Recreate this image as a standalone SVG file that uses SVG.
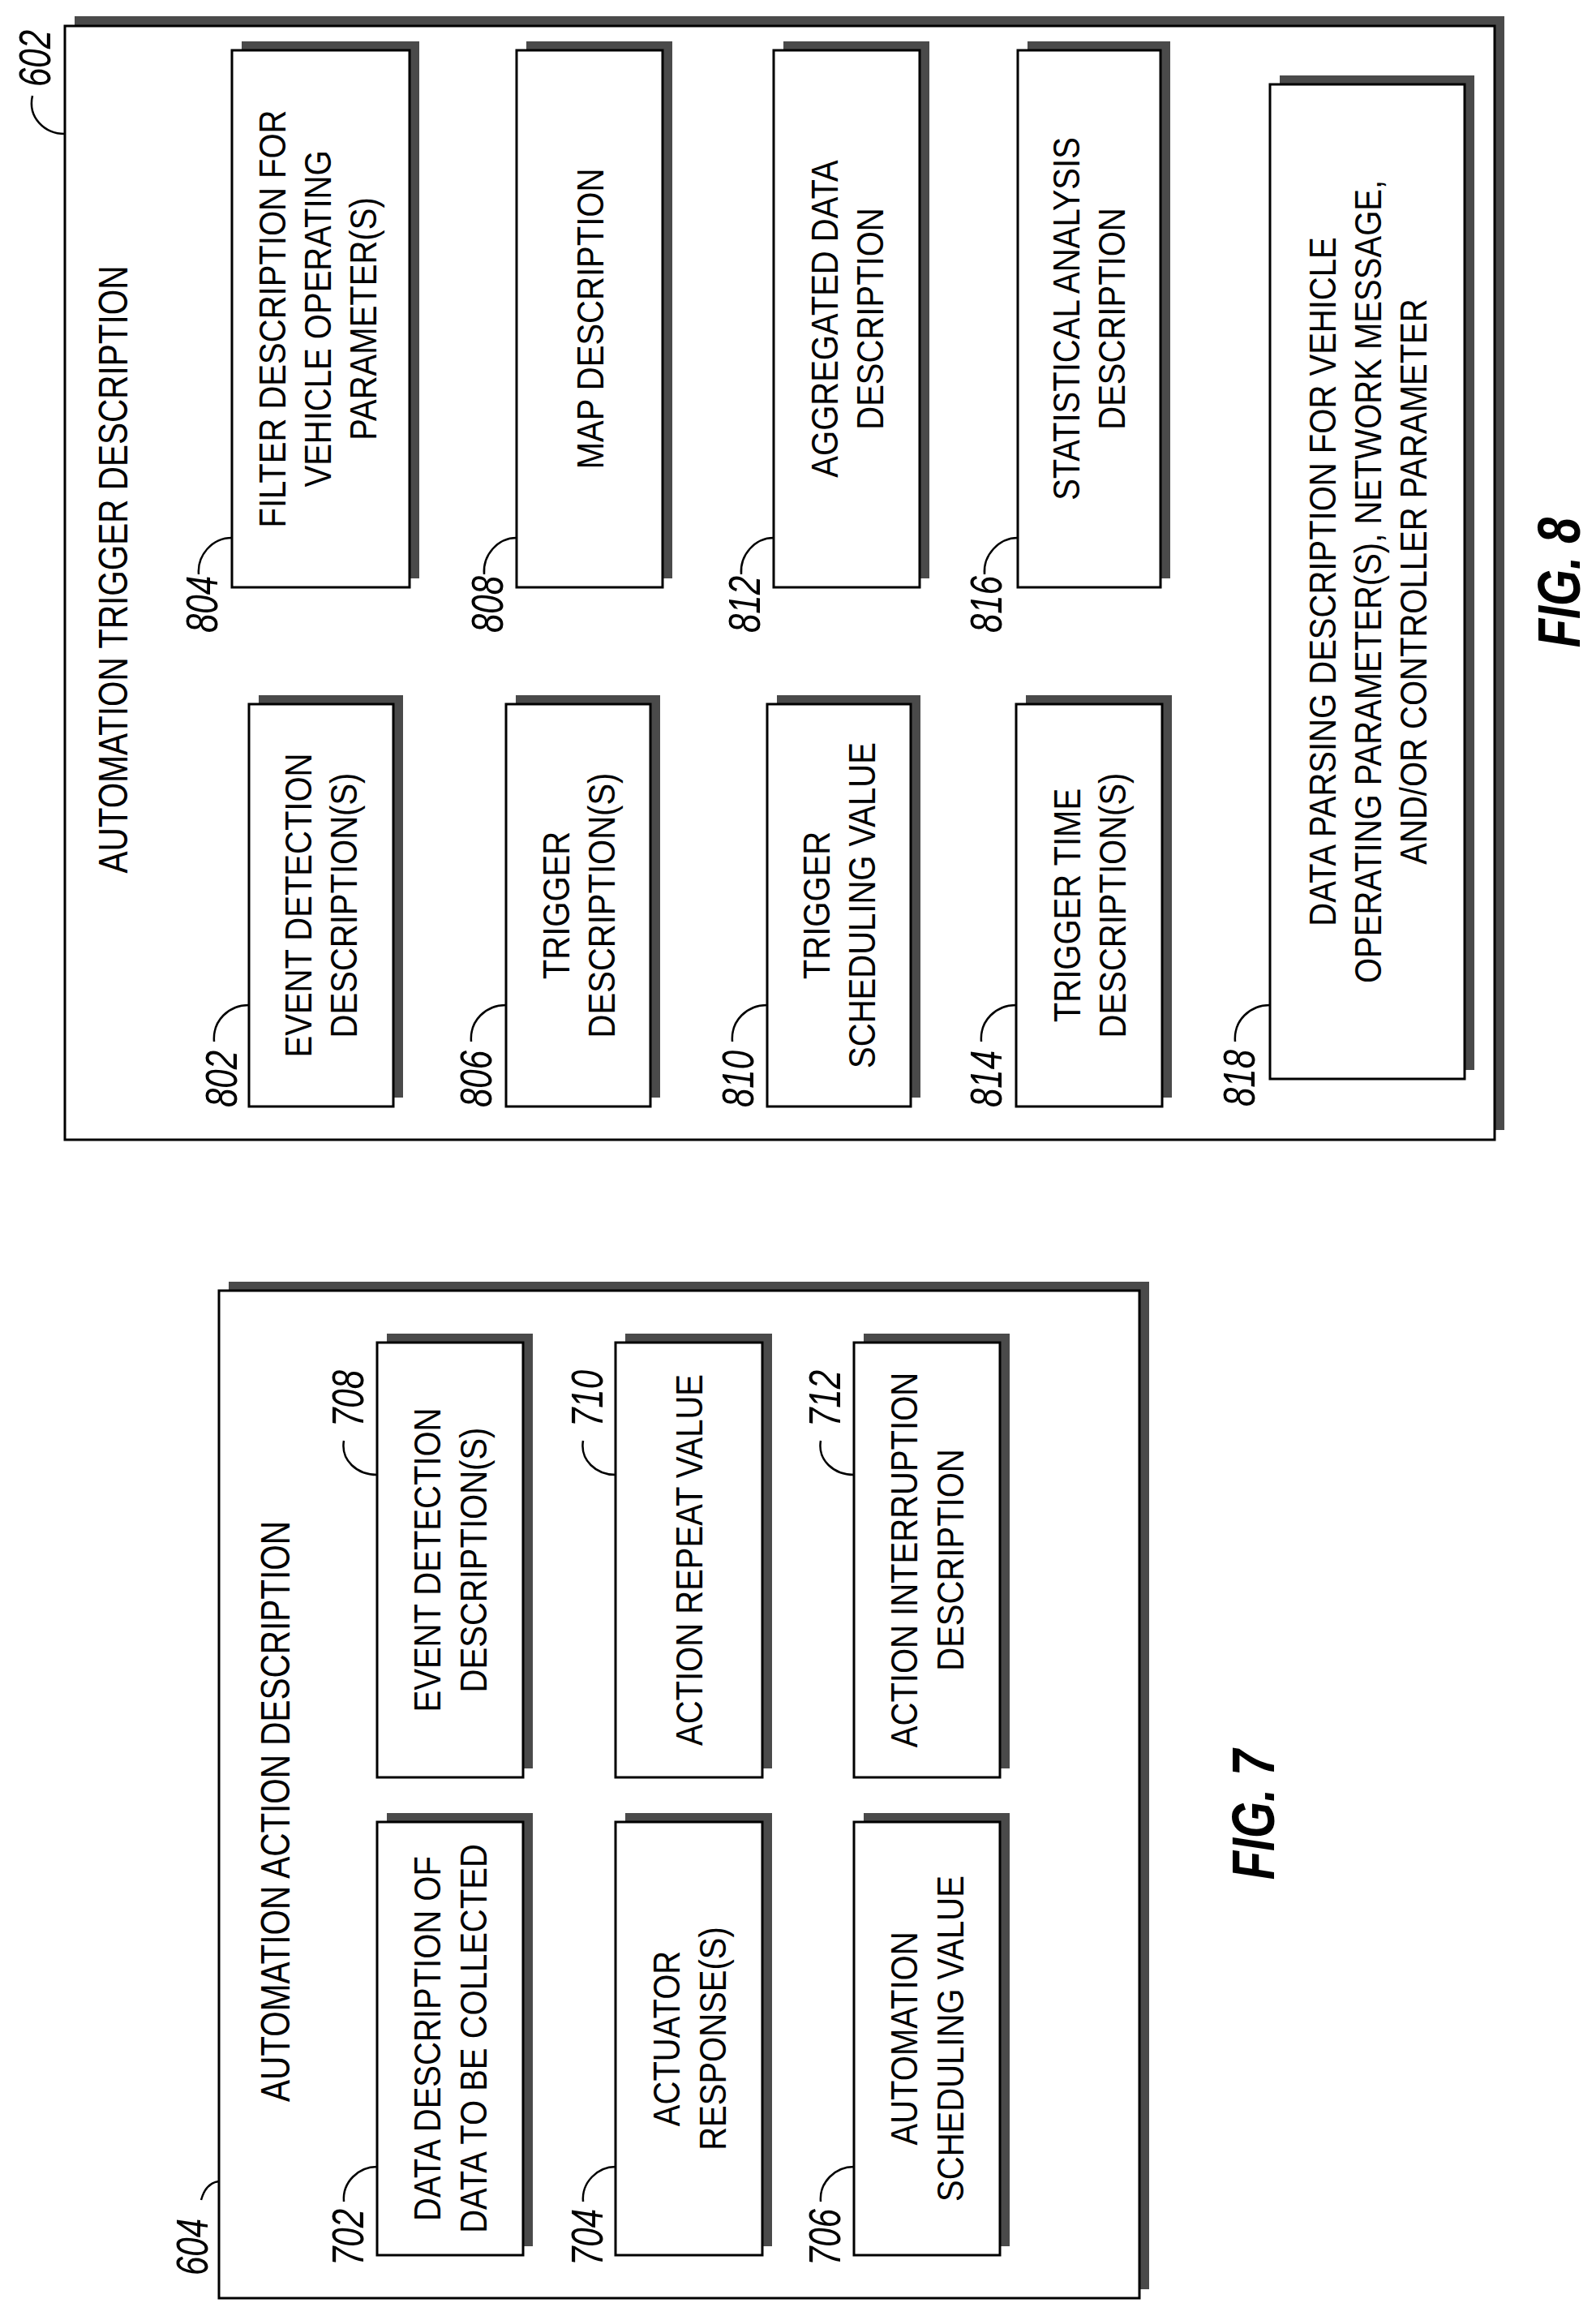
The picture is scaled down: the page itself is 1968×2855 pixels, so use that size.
<svg xmlns="http://www.w3.org/2000/svg" width="1968" height="2855" viewBox="0 0 1968 2855">
<style>
.bg{fill:#fff}
.sh{fill:#4a4a4a}
.bx{fill:#fff;stroke:#000;stroke-width:3}
.t{font-family:"Liberation Sans",Arial,sans-serif;font-size:46px;text-anchor:middle;fill:#000}
.tt{font-family:"Liberation Sans",Arial,sans-serif;font-size:50px;text-anchor:middle;fill:#000}
.lb{font-family:"Liberation Sans",Arial,sans-serif;font-size:56px;font-style:italic;text-anchor:middle;fill:#000}
.fig{font-family:"Liberation Sans",Arial,sans-serif;font-size:75px;font-style:italic;font-weight:bold;text-anchor:middle;fill:#000}
.ld{fill:none;stroke:#000;stroke-width:2.5}
</style>
<rect class="bg" x="0" y="0" width="1968" height="2855"/>

<!-- FIG 8 -->
<g id="n602">
<rect class="sh" x="92" y="20" width="1763" height="1373"/>
<rect class="bx" x="80" y="32" width="1763" height="1373"/>
<text class="lb" transform="translate(62,72) rotate(-90) scale(0.75,1)">602</text>
<text class="tt" transform="translate(157,702) rotate(-90) scale(0.81,1)">AUTOMATION TRIGGER DESCRIPTION</text>
</g>

<g id="n804">
<rect class="sh" x="298" y="51" width="219" height="662"/>
<rect class="bx" x="286" y="62" width="219" height="662"/>
<text class="t" transform="translate(352,393) rotate(-90) scale(0.87,1)">FILTER DESCRIPTION FOR</text>
<text class="t" transform="translate(408,393) rotate(-90) scale(0.87,1)">VEHICLE OPERATING</text>
<text class="t" transform="translate(464,393) rotate(-90) scale(0.87,1)">PARAMETER(S)</text>
<text class="lb" transform="translate(268,745) rotate(-90) scale(0.75,1)">804</text>
</g>
<g id="n808">
<rect class="sh" x="649" y="51" width="180" height="662"/>
<rect class="bx" x="637" y="62" width="180" height="662"/>
<text class="t" transform="translate(744,393) rotate(-90) scale(0.87,1)">MAP DESCRIPTION</text>
<text class="lb" transform="translate(620,745) rotate(-90) scale(0.75,1)">808</text>
</g>
<g id="n812">
<rect class="sh" x="966" y="51" width="180" height="662"/>
<rect class="bx" x="954" y="62" width="180" height="662"/>
<text class="t" transform="translate(1033,393) rotate(-90) scale(0.87,1)">AGGREGATED DATA</text>
<text class="t" transform="translate(1089,393) rotate(-90) scale(0.87,1)">DESCRIPTION</text>
<text class="lb" transform="translate(937,745) rotate(-90) scale(0.75,1)">812</text>
</g>
<g id="n816">
<rect class="sh" x="1267" y="51" width="176" height="662"/>
<rect class="bx" x="1255" y="62" width="176" height="662"/>
<text class="t" transform="translate(1331,393) rotate(-90) scale(0.87,1)">STATISTICAL ANALYSIS</text>
<text class="t" transform="translate(1387,393) rotate(-90) scale(0.87,1)">DESCRIPTION</text>
<text class="lb" transform="translate(1235,745) rotate(-90) scale(0.75,1)">816</text>
</g>

<g id="n802">
<rect class="sh" x="319" y="857" width="178" height="496"/>
<rect class="bx" x="307" y="868" width="178" height="496"/>
<text class="t" transform="translate(384,1116) rotate(-90) scale(0.87,1)">EVENT DETECTION</text>
<text class="t" transform="translate(440,1116) rotate(-90) scale(0.87,1)">DESCRIPTION(S)</text>
<text class="lb" transform="translate(292,1330) rotate(-90) scale(0.75,1)">802</text>
</g>
<g id="n806">
<rect class="sh" x="636" y="857" width="178" height="496"/>
<rect class="bx" x="624" y="868" width="178" height="496"/>
<text class="t" transform="translate(702,1116) rotate(-90) scale(0.87,1)">TRIGGER</text>
<text class="t" transform="translate(758,1116) rotate(-90) scale(0.87,1)">DESCRIPTION(S)</text>
<text class="lb" transform="translate(606,1330) rotate(-90) scale(0.75,1)">806</text>
</g>
<g id="n810">
<rect class="sh" x="958" y="857" width="177" height="496"/>
<rect class="bx" x="946" y="868" width="177" height="496"/>
<text class="t" transform="translate(1023,1116) rotate(-90) scale(0.87,1)">TRIGGER</text>
<text class="t" transform="translate(1079,1116) rotate(-90) scale(0.87,1)">SCHEDULING VALUE</text>
<text class="lb" transform="translate(929,1330) rotate(-90) scale(0.75,1)">810</text>
</g>
<g id="n814">
<rect class="sh" x="1265" y="857" width="180" height="496"/>
<rect class="bx" x="1253" y="868" width="180" height="496"/>
<text class="t" transform="translate(1332,1116) rotate(-90) scale(0.87,1)">TRIGGER TIME</text>
<text class="t" transform="translate(1388,1116) rotate(-90) scale(0.87,1)">DESCRIPTION(S)</text>
<text class="lb" transform="translate(1235,1330) rotate(-90) scale(0.75,1)">814</text>
</g>
<g id="n818">
<rect class="sh" x="1578" y="93" width="240" height="1226"/>
<rect class="bx" x="1566" y="104" width="240" height="1226"/>
<text class="t" transform="translate(1647,717) rotate(-90) scale(0.87,1)">DATA PARSING DESCRIPTION FOR VEHICLE</text>
<text class="t" transform="translate(1703,717) rotate(-90) scale(0.87,1)">OPERATING PARAMETER(S), NETWORK MESSAGE,</text>
<text class="t" transform="translate(1759,717) rotate(-90) scale(0.87,1)">AND/OR CONTROLLER PARAMETER</text>
<text class="lb" transform="translate(1547,1329) rotate(-90) scale(0.75,1)">818</text>
</g>
<text class="fig" transform="translate(1948,718) rotate(-90) scale(0.77,1)">FIG. 8</text>

<!-- FIG 7 -->
<g id="n604">
<rect class="sh" x="282" y="1580" width="1135" height="1242"/>
<rect class="bx" x="270" y="1591" width="1135" height="1242"/>
<text class="tt" transform="translate(357,2233) rotate(-90) scale(0.81,1)">AUTOMATION ACTION DESCRIPTION</text>
<text class="lb" transform="translate(256,2770) rotate(-90) scale(0.75,1)">604</text>
</g>
<g id="n708">
<rect class="sh" x="477" y="1644" width="180" height="536"/>
<rect class="bx" x="465" y="1655" width="180" height="536"/>
<text class="t" transform="translate(543,1923) rotate(-90) scale(0.87,1)">EVENT DETECTION</text>
<text class="t" transform="translate(600,1923) rotate(-90) scale(0.87,1)">DESCRIPTION(S)</text>
<text class="lb" transform="translate(448,1724) rotate(-90) scale(0.75,1)">708</text>
</g>
<g id="n710">
<rect class="sh" x="771" y="1644" width="181" height="536"/>
<rect class="bx" x="759" y="1655" width="181" height="536"/>
<text class="t" transform="translate(866,1923) rotate(-90) scale(0.87,1)">ACTION REPEAT VALUE</text>
<text class="lb" transform="translate(743,1724) rotate(-90) scale(0.75,1)">710</text>
</g>
<g id="n712">
<rect class="sh" x="1065" y="1644" width="180" height="536"/>
<rect class="bx" x="1053" y="1655" width="180" height="536"/>
<text class="t" transform="translate(1131,1923) rotate(-90) scale(0.87,1)">ACTION INTERRUPTION</text>
<text class="t" transform="translate(1188,1923) rotate(-90) scale(0.87,1)">DESCRIPTION</text>
<text class="lb" transform="translate(1036,1724) rotate(-90) scale(0.75,1)">712</text>
</g>
<g id="n702">
<rect class="sh" x="477" y="2235" width="180" height="534"/>
<rect class="bx" x="465" y="2246" width="180" height="534"/>
<text class="t" transform="translate(543,2513) rotate(-90) scale(0.87,1)">DATA DESCRIPTION OF</text>
<text class="t" transform="translate(600,2513) rotate(-90) scale(0.87,1)">DATA TO BE COLLECTED</text>
<text class="lb" transform="translate(448,2758) rotate(-90) scale(0.75,1)">702</text>
</g>
<g id="n704">
<rect class="sh" x="771" y="2235" width="181" height="534"/>
<rect class="bx" x="759" y="2246" width="181" height="534"/>
<text class="t" transform="translate(838,2513) rotate(-90) scale(0.87,1)">ACTUATOR</text>
<text class="t" transform="translate(895,2513) rotate(-90) scale(0.87,1)">RESPONSE(S)</text>
<text class="lb" transform="translate(743,2758) rotate(-90) scale(0.75,1)">704</text>
</g>
<g id="n706">
<rect class="sh" x="1065" y="2235" width="180" height="534"/>
<rect class="bx" x="1053" y="2246" width="180" height="534"/>
<text class="t" transform="translate(1131,2513) rotate(-90) scale(0.87,1)">AUTOMATION</text>
<text class="t" transform="translate(1188,2513) rotate(-90) scale(0.87,1)">SCHEDULING VALUE</text>
<text class="lb" transform="translate(1036,2758) rotate(-90) scale(0.75,1)">706</text>
</g>
<text class="fig" transform="translate(1571,2237) rotate(-90) scale(0.77,1)">FIG. 7</text>

<g id="connectors">
<path class="ld" d="M40,118 C34,145 55,165 80,165"/>
<path class="ld" d="M245,708 C243,684 262,663 286,663"/>
<path class="ld" d="M597,708 C595,684 614,663 637,663"/>
<path class="ld" d="M914,708 C912,684 931,663 954,663"/>
<path class="ld" d="M1214,708 C1212,684 1232,663 1255,663"/>
<path class="ld" d="M264,1284 C262,1258 282,1239 307,1239"/>
<path class="ld" d="M581,1284 C579,1258 599,1239 624,1239"/>
<path class="ld" d="M903,1284 C901,1258 921,1239 946,1239"/>
<path class="ld" d="M1210,1284 C1208,1258 1228,1239 1253,1239"/>
<path class="ld" d="M1523,1284 C1521,1258 1541,1239 1566,1239"/>
<path class="ld" d="M424,1776 C420,1800 440,1818 465,1818"/>
<path class="ld" d="M719,1776 C715,1800 735,1818 759,1818"/>
<path class="ld" d="M1012,1776 C1008,1800 1028,1818 1053,1818"/>
<path class="ld" d="M424,2714 C422,2690 442,2671 465,2671"/>
<path class="ld" d="M719,2714 C717,2690 737,2671 759,2671"/>
<path class="ld" d="M1012,2714 C1010,2690 1030,2671 1053,2671"/>
<path class="ld" d="M248,2712 C252,2698 260,2690 270,2689"/>
</g>
</svg>
